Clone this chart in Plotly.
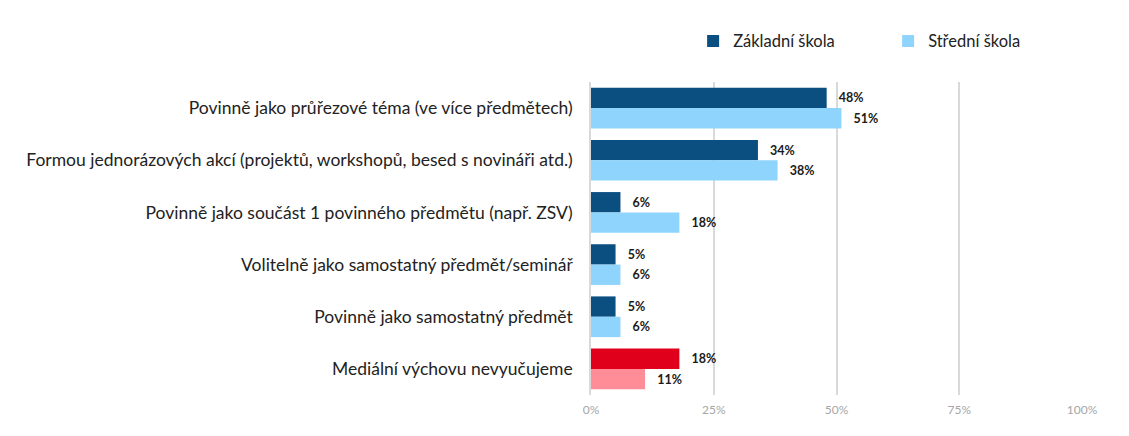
import plotly.graph_objects as go

# Categories top to bottom
categories = [
    "Povinně jako průřezové téma (ve více předmětech)",
    "Formou jednorázových akcí (projektů, workshopů, besed s novináři atd.)",
    "Povinně jako součást 1 povinného předmětu (např. ZSV)",
    "Volitelně jako samostatný předmět/seminář",
    "Povinně jako samostatný předmět",
    "Mediální výchovu nevyučujeme",
]
zakladni = [48, 34, 6, 5, 5, 18]
stredni = [51, 38, 18, 6, 6, 11]

tick_vals = [0, 25, 50, 75, 100]
tick_text = ["0%", "25%", "50%", "75%", "100%"]

DARK = "#0B4E80"
LIGHT = "#8ED4FD"
RED = "#E1001B"
PINK = "#FF8D98"

FONT = "Lato"

# last row ("nevyučujeme") is highlighted in red tones
dark_colors = [DARK] * (len(categories) - 1) + [RED]
light_colors = [LIGHT] * (len(categories) - 1) + [PINK]

label_font = dict(family=FONT, size=12.5, color="#1a1a1a", weight="bold")

fig = go.Figure()
fig.add_bar(
    y=categories, x=zakladni, orientation="h", name="Základní škola",
    marker=dict(color=dark_colors, line=dict(width=0)),
    text=[f"{v}%" for v in zakladni], texttemplate="   %{text}",
    textposition="outside", cliponaxis=False, textfont=label_font,
)
fig.add_bar(
    y=categories, x=stredni, orientation="h", name="Střední škola",
    marker=dict(color=light_colors, line=dict(width=0)),
    text=[f"{v}%" for v in stredni], texttemplate="   %{text}",
    textposition="outside", cliponaxis=False, textfont=label_font,
)

fig.update_layout(
    width=1129, height=436,
    barmode="group", bargap=0.22, bargroupgap=0,
    plot_bgcolor="white", paper_bgcolor="white",
    margin=dict(l=583, r=55, t=74, b=49),
    font=dict(family=FONT, size=17, color="#222222"),
    legend=dict(
        orientation="h", x=0.208, y=1.13,
        xanchor="left", yanchor="middle",
        entrywidth=150, font=dict(size=16.5, color="#222222"),
        traceorder="normal", itemwidth=30,
    ),
    showlegend=True,
)
fig.update_xaxes(
    range=[0, 100], tickvals=tick_vals, ticktext=tick_text,
    showgrid=True, gridcolor="#d9d9d9", gridwidth=1.5,
    zeroline=False, showline=False, tickangle=0,
    tickfont=dict(size=12, color="#a6a6a6"), ticks="", ticklabelstandoff=6,
)
fig.update_yaxes(
    autorange="reversed", showline=True, linecolor="#d9d9d9", linewidth=1.5,
    ticks="", ticklabelstandoff=13,
    tickfont=dict(size=17.5, color="#222222"),
)

fig.write_html("out.html")
